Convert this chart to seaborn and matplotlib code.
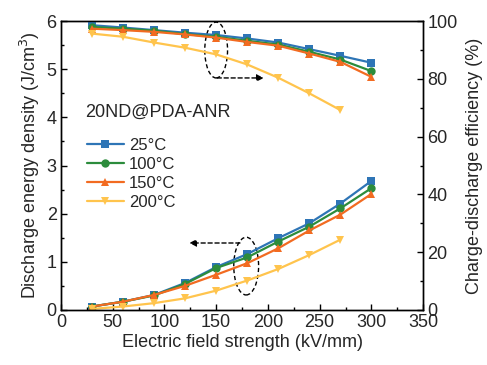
import matplotlib
matplotlib.use("Agg")
import matplotlib.pyplot as plt
from matplotlib.patches import Ellipse
from matplotlib.ticker import MultipleLocator
import seaborn as sns
import pandas as pd

sns.set_theme(style="ticks")
plt.rcParams['font.family'] = ['Liberation Sans', 'DejaVu Sans']

field = [30, 60, 90, 120, 150, 180, 210, 240, 270, 300]
field_200 = [30, 60, 90, 120, 150, 180, 210, 240, 270]
labels = ["25°C", "100°C", "150°C", "200°C"]

energy_25 = [0.07, 0.17, 0.31, 0.56, 0.89, 1.16, 1.49, 1.80, 2.21, 2.68]
energy_100 = [0.07, 0.17, 0.30, 0.54, 0.87, 1.09, 1.42, 1.73, 2.11, 2.53]
energy_150 = [0.07, 0.17, 0.31, 0.50, 0.73, 0.97, 1.28, 1.65, 1.98, 2.41]
energy_200 = [0.02, 0.07, 0.14, 0.24, 0.40, 0.61, 0.85, 1.14, 1.46]

eff_25 = [98.6, 97.8, 96.9, 96.0, 95.2, 94.0, 92.6, 90.3, 88.0, 85.6]
eff_100 = [98.0, 97.4, 96.7, 95.5, 94.6, 93.2, 91.9, 89.4, 86.7, 82.7]
eff_150 = [97.4, 96.9, 96.3, 95.4, 94.3, 92.8, 91.5, 88.8, 85.9, 80.7]
eff_200 = [95.7, 94.6, 92.6, 90.8, 88.5, 85.0, 80.4, 75.0, 69.2]

colors = ["#2E75B6", "#2C8C3C", "#F26B21", "#FFC44D"]
markers = ["s", "o", "^", "v"]

def build(vals_list, xs_list):
    rows = []
    for lab, xs, vals in zip(labels, xs_list, vals_list):
        for x, v in zip(xs, vals):
            rows.append({"E": x, "val": v, "T": lab})
    return pd.DataFrame(rows)

xs_list = [field, field, field, field_200]
df_e = build([energy_25, energy_100, energy_150, energy_200], xs_list)
df_f = build([eff_25, eff_100, eff_150, eff_200], xs_list)

fig = plt.figure(figsize=(4.87, 3.65), dpi=100)
ax = fig.add_axes([0.125, 0.151, 0.744, 0.791])
ax2 = ax.twinx()

fs = 13
for i, lab in enumerate(labels):
    d = df_e[df_e["T"] == lab]
    sns.lineplot(data=d, x="E", y="val", ax=ax, color=colors[i], marker=markers[i],
                 markersize=6, markeredgewidth=0, linewidth=1.6, label=lab, legend=False)
    d2 = df_f[df_f["T"] == lab]
    sns.lineplot(data=d2, x="E", y="val", ax=ax2, color=colors[i], marker=markers[i],
                 markersize=6, markeredgewidth=0, linewidth=1.6, legend=False)

ax.set_xlim(0, 350)
ax.set_ylim(0, 6)
ax2.set_ylim(0, 100)
ax.xaxis.set_major_locator(MultipleLocator(50))
ax.xaxis.set_minor_locator(MultipleLocator(25))
ax.yaxis.set_major_locator(MultipleLocator(1))
ax.yaxis.set_minor_locator(MultipleLocator(0.5))
ax2.yaxis.set_major_locator(MultipleLocator(20))
ax2.yaxis.set_minor_locator(MultipleLocator(10))

for a in (ax, ax2):
    a.tick_params(which="both", direction="in", labelsize=fs, color="black", width=1, pad=3)
    a.tick_params(which="major", length=4)
    a.tick_params(which="minor", length=2)
    for s in a.spines.values():
        s.set_color("black")
        s.set_linewidth(1)

ax.set_xlabel("Electric field strength (kV/mm)", fontsize=fs, labelpad=2)
ax.set_ylabel("Discharge energy density (J/cm$^3$)", fontsize=fs, labelpad=3)
ax2.set_ylabel("Charge-discharge efficiency (%)", fontsize=fs, labelpad=6)

ax.text(23, 4.1, "20ND@PDA-ANR", fontsize=fs, ha="left", va="center")

leg = ax.legend(loc="upper left", bbox_to_anchor=(0.072, 0.597), frameon=False,
                fontsize=12, handlelength=2.2, handletextpad=0.3, labelspacing=0.25,
                borderaxespad=0, borderpad=0)

# annotations
ax.add_patch(Ellipse((150, 5.40), 22, 1.16, fill=False, ls=(0, (3, 2)), lw=1, color="black"))
ax.annotate("", xy=(196, 4.82), xytext=(151, 4.82),
            arrowprops=dict(arrowstyle="-|>", ls=(0, (3, 2)), lw=1, color="black",
                            shrinkA=0, shrinkB=0, mutation_scale=10))
ax.add_patch(Ellipse((179, 0.91), 24, 1.20, fill=False, ls=(0, (3, 2)), lw=1, color="black"))
ax.annotate("", xy=(124, 1.39), xytext=(173, 1.39),
            arrowprops=dict(arrowstyle="-|>", ls=(0, (3, 2)), lw=1, color="black",
                            shrinkA=0, shrinkB=0, mutation_scale=10))

fig.savefig("out.png", dpi=100)
